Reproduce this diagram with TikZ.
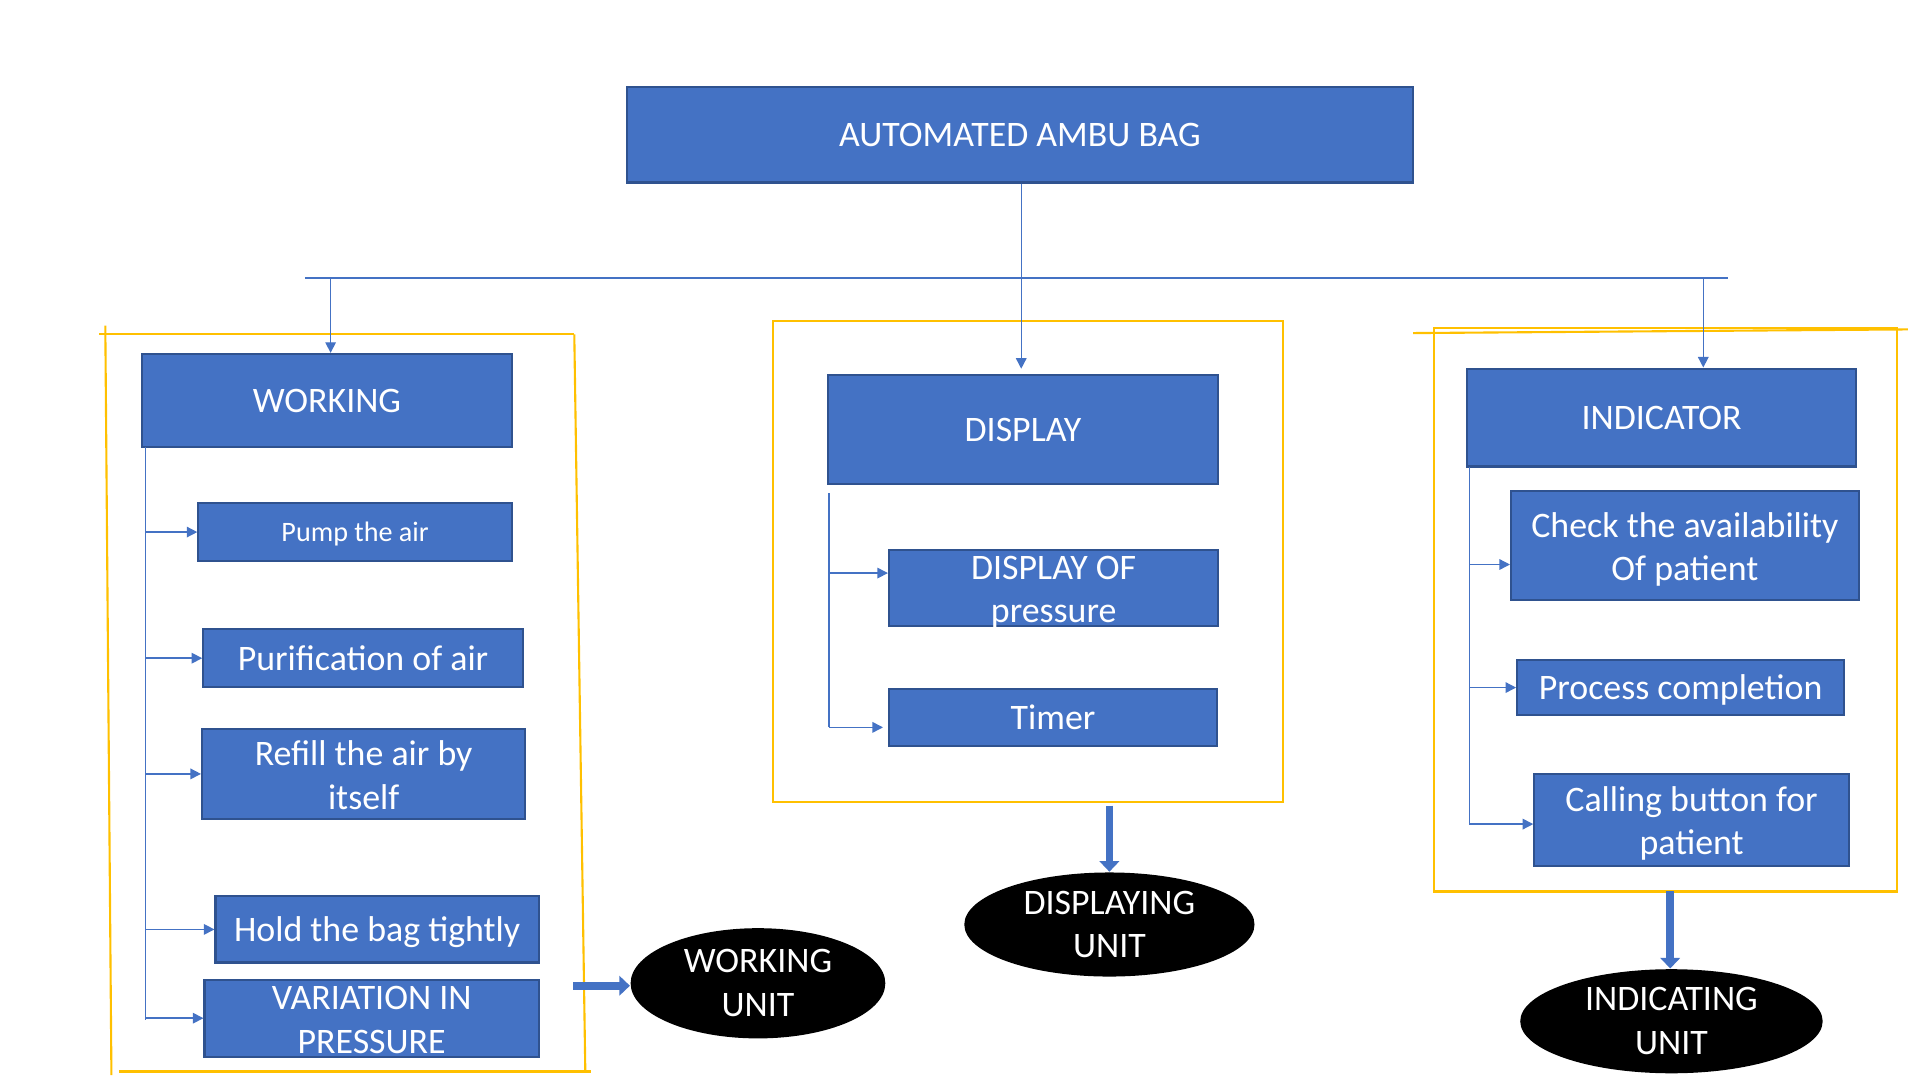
\documentclass[tikz,border=0pt]{standalone}
\usepackage{fontspec}
\setmainfont{Carlito}
\usetikzlibrary{arrows.meta,shapes.geometric}
\definecolor{boxblue}{HTML}{4472C4}
\definecolor{boxedge}{HTML}{2F528F}
\definecolor{frameyellow}{HTML}{FFC000}
\newlength{\upx}\setlength{\upx}{0.012245cm}
\tikzset{every node/.style={align=center, text=white, inner sep=0pt, font=\fontsize{10.2}{12.4}\selectfont}}
\tikzset{every edge/.style={draw=boxblue, thin, -{Triangle[length=3pt,width=3pt]}}}
\tikzset{box/.style={rectangle, draw=boxedge, fill=boxblue, line width=0.6pt}}
\tikzset{oneline/.style={box, text height=9.7pt, text depth=2.75pt}}
\tikzset{twoline/.style={box, text height=20pt, text depth=0pt}}
\tikzset{unit/.style={ellipse, fill=black}}
\tikzset{frame/.style={draw=frameyellow, line width=0.6pt}}
\tikzset{bigarrow/.style={draw=boxblue, line width=2.2pt, -{Triangle[length=3pt,width=5.5pt]}}}
\begin{document}
\begin{tikzpicture}[x=0.012245cm, y=-0.012245cm]
  \useasboundingbox (0,0) rectangle (1568,882);

  \node (bag) [oneline, minimum width=642\upx, minimum height=78\upx] at (833,110) {AUTOMATED AMBU BAG};

  \node (working) [oneline, minimum width=302\upx, minimum height=76\upx] at (267,327) {WORKING};
  \node (pump) [oneline, minimum width=256\upx, minimum height=47\upx, font=\fontsize{8}{9.8}\selectfont,
    text height=7.6pt, text depth=2.2pt] at (290,434.5) {Pump the air};
  \node (purify) [oneline, minimum width=261\upx, minimum height=47\upx] at (296.5,537.5) {Purification of air};
  \node (refill) [twoline, minimum width=264\upx, minimum height=74\upx] at (297,632) {Refill the air by\\itself};
  \node (hold) [oneline, minimum width=264\upx, minimum height=54\upx] at (308,759) {Hold the bag tightly};
  \node (vary) [twoline, minimum width=273\upx, minimum height=63\upx] at (303.5,831.5) {VARIATION IN\\PRESSURE};

  \node (display) [oneline, minimum width=319\upx, minimum height=89\upx] at (835.5,350.5) {DISPLAY};
  \node (dispof) [twoline, minimum width=269\upx, minimum height=62\upx] at (860.5,480) {DISPLAY OF\\pressure};
  \node (timer) [oneline, minimum width=268\upx, minimum height=46\upx] at (860,586) {Timer};

  \node (indicator) [oneline, minimum width=318\upx, minimum height=80\upx] at (1357,341) {INDICATOR};
  \node (check) [twoline, minimum width=284\upx, minimum height=89\upx] at (1376,445.5) {Check the availability\\Of patient};
  \node (process) [oneline, minimum width=267\upx, minimum height=45\upx] at (1372.5,561.5) {Process completion};
  \node (calling) [twoline, minimum width=257\upx, minimum height=75\upx] at (1381.5,669.5) {Calling button for\\patient};

  \node (wunit) [unit, minimum width=208\upx, minimum height=90\upx] at (619,803) {WORKING\\UNIT};
  \node (dunit) [unit, minimum width=237\upx, minimum height=85\upx] at (906,755) {DISPLAYING\\UNIT};
  \node (iunit) [unit, minimum width=247\upx, minimum height=85\upx] at (1365,834) {INDICATING\\UNIT};

  % yellow frames
  \draw[frame] (81,273) -- (469,273);
  \draw[frame] (86,266) -- (91,878);
  \draw[frame] (469,273) -- (478,875);
  \draw[frame] (97,875) -- (483,875);
  \draw[frame] (631,262) rectangle (1048,655);
  \draw[frame] (1154,272) -- (1558,269);
  \draw[frame] (1171,268) rectangle (1549,728);

  % tree
  \coordinate (split) at (834,227);
  \coordinate (hl) at (249,227);
  \coordinate (hr) at (1411,227);
  \coordinate (b1) at (270,227);
  \coordinate (b3) at (1391,227);
  \draw[boxblue] (split |- bag.south) -- (split);
  \draw[boxblue] (hl) -- (hr);
  \path (b1) edge (b1 |- working.north);
  \path (split) edge[shorten >=1.4pt] (split |- display.north);
  \path (b3) edge (b3 |- indicator.north);

  % working branch
  \coordinate (wtop) at (119,365);
  \coordinate (wend) at (119,833);
  \draw[boxblue] (wtop) -- (wend);
  \path (wtop |- pump.west) edge (pump.west);
  \path (wtop |- purify.west) edge (purify.west);
  \path (wtop |- refill.west) edge (refill.west);
  \path (wtop |- hold.west) edge (hold.west);
  \path (wtop |- vary.west) edge (vary.west);

  % display branch
  \coordinate (dtop) at (677,403);
  \coordinate (dend) at (677,594);
  \coordinate (d1) at (677,468);
  \draw[boxblue] (dtop) -- (dend);
  \path (d1) edge (d1 -| dispof.west);
  \path (dend) edge[shorten >=1.4pt] (dend -| timer.west);

  % indicator branch
  \coordinate (itop) at (1200,381);
  \coordinate (iend) at (1200,673);
  \coordinate (i1) at (1200,461);
  \draw[boxblue] (itop) -- (iend);
  \path (i1) edge (i1 -| check.west);
  \path (itop |- process.west) edge (process.west);
  \path (iend) edge (iend -| calling.west);

  % units
  \coordinate (wframe) at (468,805);
  \coordinate (dframe) at (906,658);
  \coordinate (iframe) at (1364,728);
  \path (wframe) edge[bigarrow] (wframe -| wunit.west);
  \path (dframe) edge[bigarrow] (dunit.north);
  \path (iframe) edge[bigarrow] (iframe |- iunit.north);
\end{tikzpicture}
\end{document}
